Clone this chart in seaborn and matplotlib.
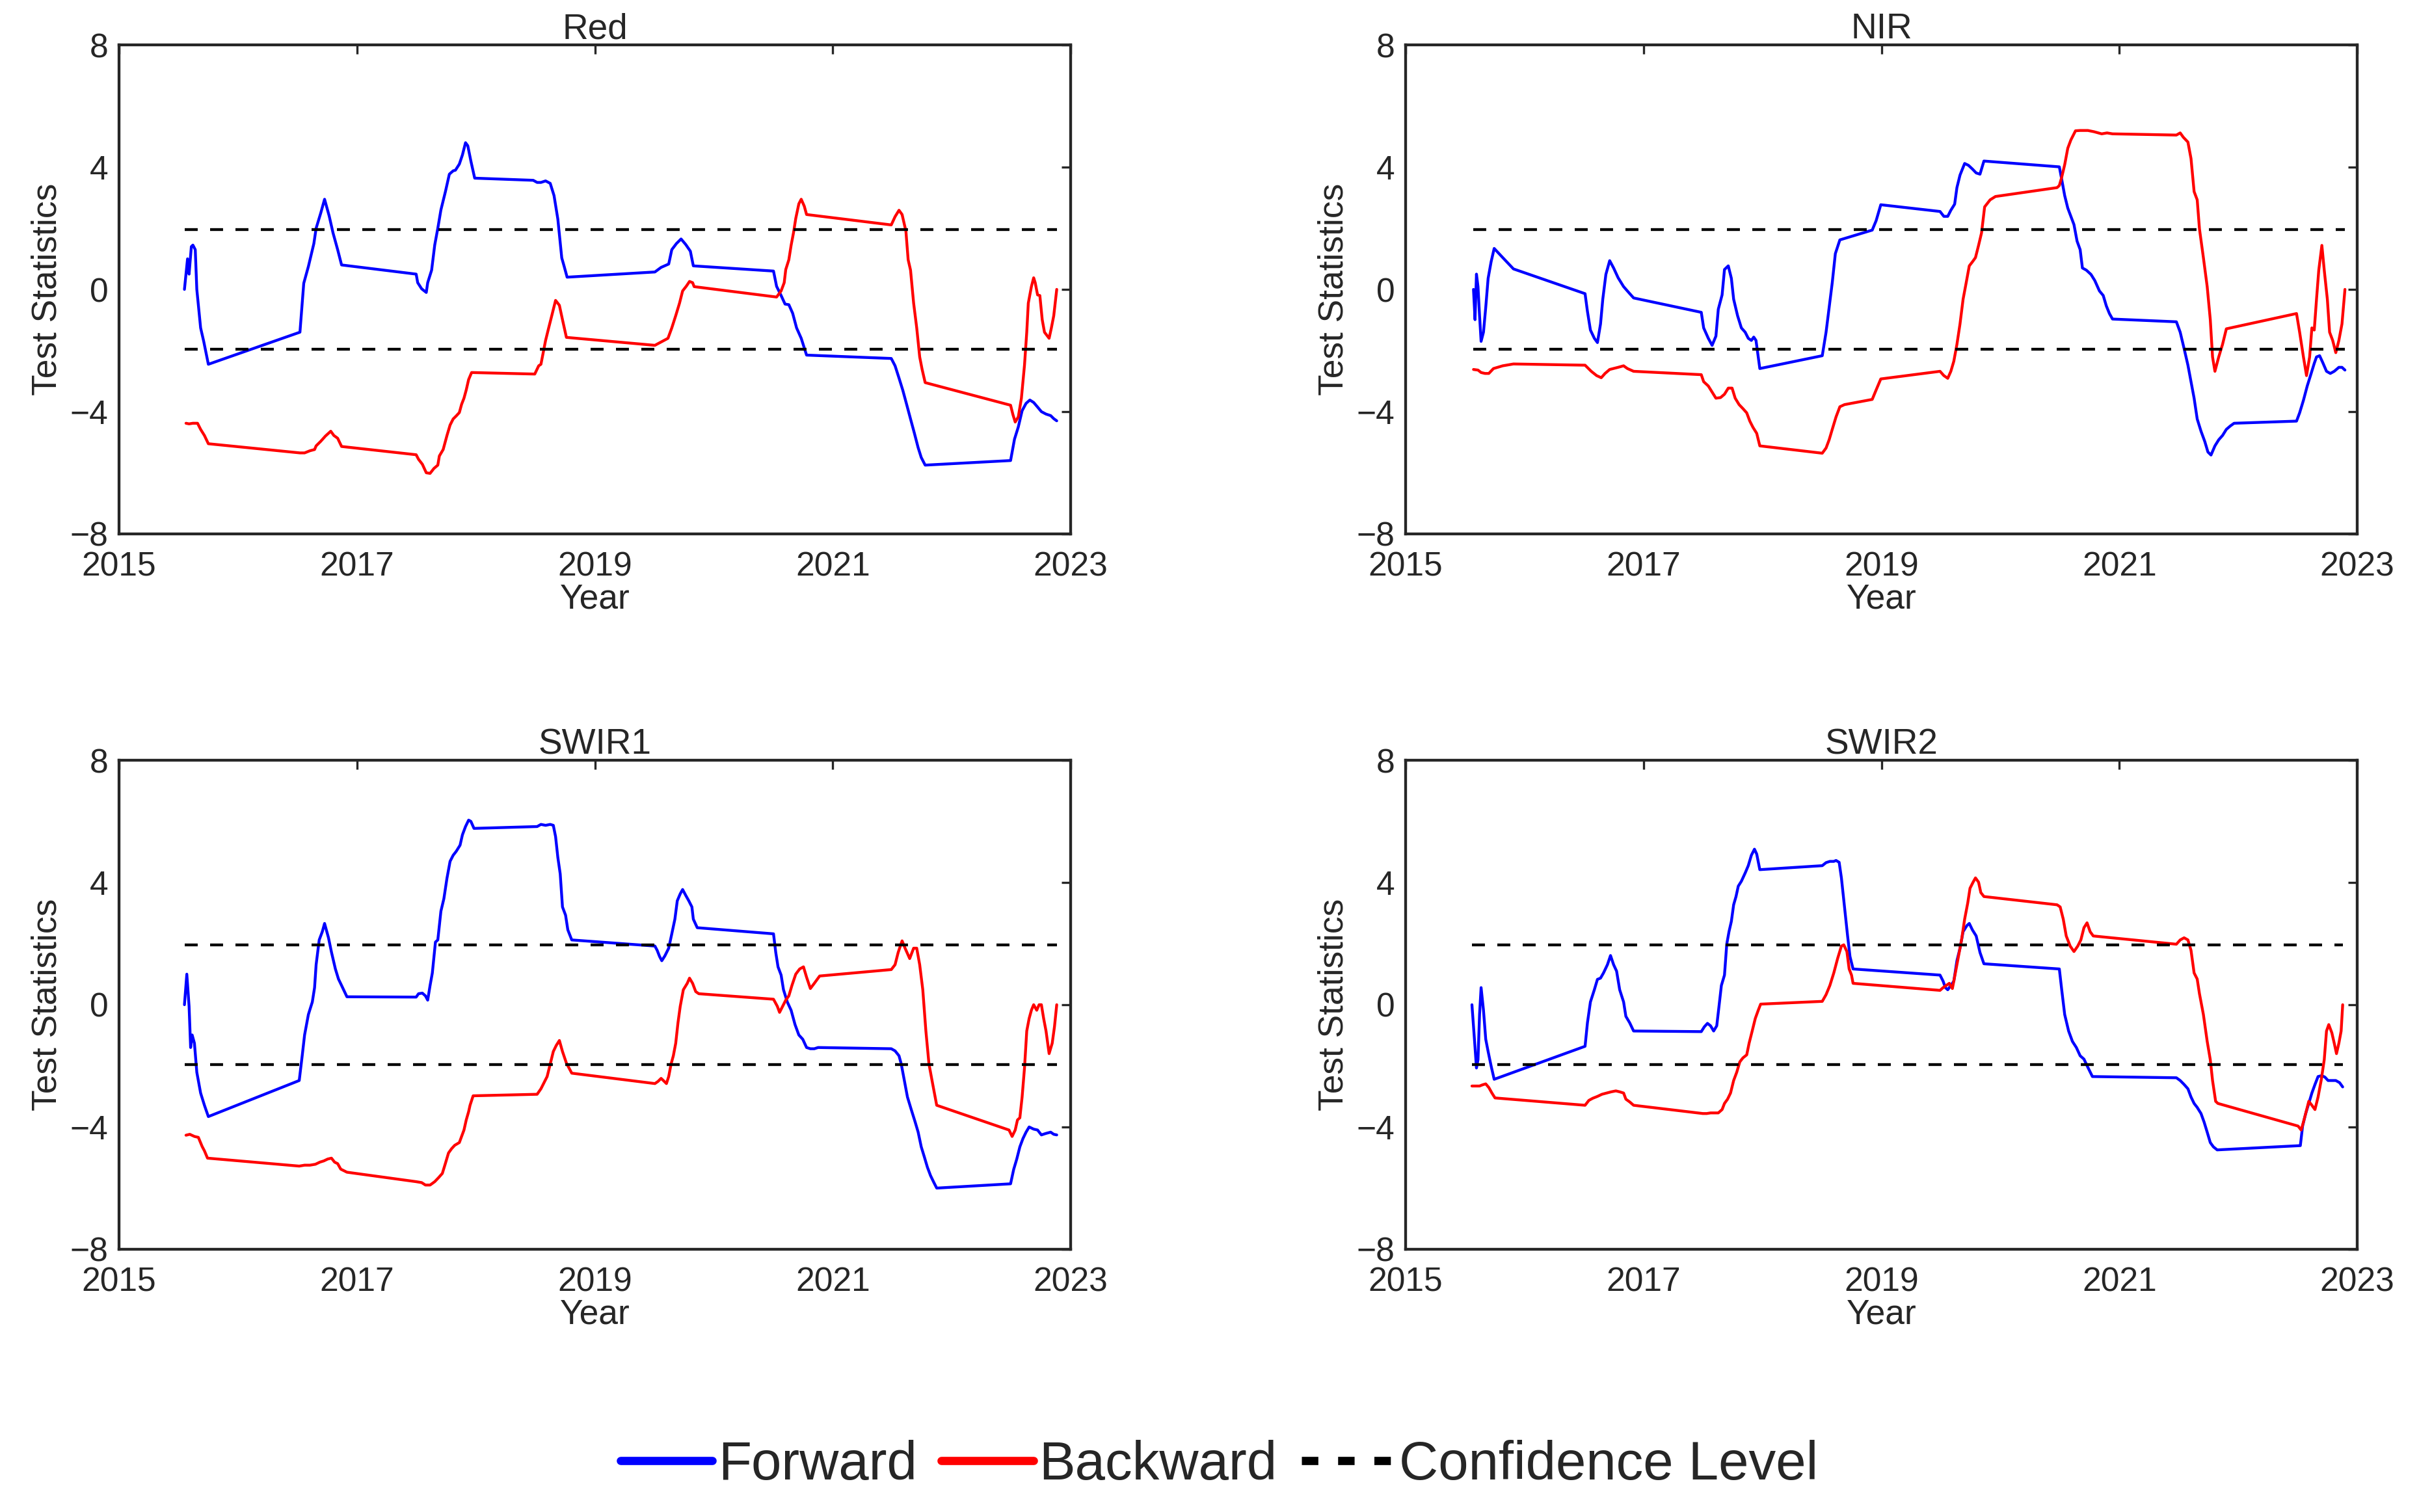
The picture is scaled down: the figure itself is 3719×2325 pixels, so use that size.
import matplotlib
matplotlib.use("Agg")
import matplotlib.pyplot as plt
from matplotlib.lines import Line2D
import seaborn as sns

sns.set_style("white")
plt.rcParams['font.family'] = ['Liberation Sans', 'DejaVu Sans']

# Confidence level (95%)
conf_level = 1.96

# ---- Red band ----
red_fwd_t = [2015.550, 2015.576, 2015.589, 2015.608, 2015.621, 2015.641, 2015.654, 2015.686, 2015.712, 2015.751,
             2016.521, 2016.553, 2016.592, 2016.638, 2016.657, 2016.696, 2016.728, 2016.767, 2016.799, 2016.838, 2016.871,
             2017.498, 2017.511, 2017.544, 2017.583, 2017.595, 2017.628, 2017.654, 2017.680, 2017.706, 2017.744,
             2017.777, 2017.809, 2017.828, 2017.861, 2017.887, 2017.913, 2017.932, 2017.958, 2017.990,
             2018.482, 2018.515, 2018.547, 2018.586, 2018.625, 2018.657, 2018.689, 2018.722, 2018.741, 2018.767,
             2019.505, 2019.557, 2019.621, 2019.647, 2019.686, 2019.725, 2019.764, 2019.803, 2019.828,
             2020.502, 2020.528, 2020.566, 2020.599, 2020.631, 2020.663, 2020.696, 2020.735, 2020.780,
             2021.492, 2021.524, 2021.557, 2021.589, 2021.621, 2021.654, 2021.686, 2021.718, 2021.744, 2021.777,
             2022.495, 2022.528, 2022.560, 2022.592, 2022.625, 2022.657, 2022.689, 2022.722, 2022.754, 2022.793,
             2022.832, 2022.858, 2022.883]
red_fwd_v = [0.0, 1.0, 0.5, 1.4, 1.45, 1.3, 0.0, -1.26, -1.7, -2.45,
             -1.4, 0.2, 0.75, 1.5, 2.0, 2.5, 2.95, 2.4, 1.85, 1.3, 0.8,
             0.5, 0.22, 0.02, -0.1, 0.22, 0.63, 1.45, 2.0, 2.6, 3.2,
             3.77, 3.88, 3.9, 4.1, 4.4, 4.8, 4.7, 4.2, 3.64,
             3.57, 3.5, 3.5, 3.55, 3.47, 3.07, 2.3, 1.03, 0.77, 0.4,
             0.57, 0.72, 0.83, 1.3, 1.5, 1.65, 1.47, 1.25, 0.77,
             0.6, 0.1, -0.2, -0.48, -0.5, -0.78, -1.26, -1.6, -2.15,
             -2.26, -2.5, -2.9, -3.3, -3.76, -4.24, -4.7, -5.18, -5.5, -5.75,
             -5.6, -4.9, -4.5, -3.97, -3.73, -3.62, -3.7, -3.85, -4.0, -4.08,
             -4.13, -4.23, -4.3]
red_bwd_t = [2015.563, 2015.589, 2015.621, 2015.660, 2015.686, 2015.718, 2015.751,
             2016.521, 2016.560, 2016.605, 2016.644, 2016.657, 2016.696, 2016.735, 2016.780, 2016.806, 2016.838, 2016.871,
             2017.498, 2017.518, 2017.550, 2017.583, 2017.615, 2017.647, 2017.680, 2017.693, 2017.725, 2017.757,
             2017.783, 2017.809, 2017.835, 2017.861, 2017.880, 2017.900, 2017.919, 2017.939, 2017.964,
             2018.495, 2018.528, 2018.547, 2018.566, 2018.586, 2018.612, 2018.638, 2018.670, 2018.702, 2018.728, 2018.761,
             2019.505, 2019.615, 2019.647, 2019.680, 2019.712, 2019.738, 2019.770, 2019.796, 2019.822, 2019.835,
             2020.528, 2020.566, 2020.592, 2020.605, 2020.631, 2020.650, 2020.670, 2020.689, 2020.715, 2020.735,
             2020.761, 2020.780,
             2021.492, 2021.524, 2021.557, 2021.583, 2021.615, 2021.634, 2021.654, 2021.680, 2021.706, 2021.731,
             2021.751, 2021.777,
             2022.495, 2022.515, 2022.534, 2022.560, 2022.586, 2022.612, 2022.631, 2022.644, 2022.670, 2022.689,
             2022.702, 2022.722, 2022.741, 2022.761, 2022.780, 2022.819, 2022.838, 2022.858, 2022.883]
red_bwd_v = [-4.38, -4.4, -4.38, -4.38, -4.58, -4.78, -5.05,
             -5.35, -5.35, -5.28, -5.24, -5.12, -4.97, -4.8, -4.64, -4.78, -4.87, -5.14,
             -5.41, -5.56, -5.72, -6.0, -6.02, -5.86, -5.75, -5.45, -5.24, -4.78,
             -4.44, -4.24, -4.14, -4.03, -3.76, -3.56, -3.29, -2.95, -2.72,
             -2.77, -2.5, -2.45, -2.07, -1.67, -1.26, -0.86, -0.36, -0.52, -0.99, -1.57,
             -1.83, -1.6, -1.26, -0.86, -0.45, -0.05, 0.11, 0.26, 0.22, 0.09,
             -0.25, -0.05, 0.22, 0.65, 0.97, 1.44, 1.85, 2.32, 2.8, 2.95,
             2.72, 2.45,
             2.11, 2.38, 2.59, 2.45, 1.91, 0.97, 0.63, -0.45, -1.26, -2.21,
             -2.61, -3.05,
             -3.79, -4.1, -4.34, -4.17, -3.56, -2.48, -1.4, -0.45, 0.09, 0.38,
             0.22, -0.18, -0.2, -0.99, -1.4, -1.6, -1.26, -0.86, 0.0]

# ---- NIR band ----
nir_fwd_t = [2015.570, 2015.583, 2015.595, 2015.608, 2015.621, 2015.634, 2015.654, 2015.673, 2015.693, 2015.718,
             2015.744, 2015.816, 2015.906,
             2016.508, 2016.528, 2016.553, 2016.586, 2016.612, 2016.638, 2016.657, 2016.683, 2016.715, 2016.748,
             2016.786, 2016.832, 2016.877, 2016.916,
             2017.485, 2017.505, 2017.544, 2017.576, 2017.608, 2017.628, 2017.660, 2017.680, 2017.712, 2017.738,
             2017.757, 2017.790, 2017.822, 2017.854, 2017.880, 2017.906, 2017.926, 2017.945, 2017.977,
             2018.502, 2018.534, 2018.560, 2018.586, 2018.612, 2018.650,
             2018.922, 2018.955, 2018.994,
             2019.492, 2019.524, 2019.557, 2019.583, 2019.615, 2019.634, 2019.660, 2019.699, 2019.731, 2019.764,
             2019.796, 2019.828, 2019.861,
             2020.495, 2020.515, 2020.540, 2020.566, 2020.592, 2020.618, 2020.644, 2020.670, 2020.689, 2020.722,
             2020.761, 2020.793, 2020.832, 2020.864, 2020.890, 2020.916, 2020.942,
             2021.479, 2021.511, 2021.544, 2021.576, 2021.602, 2021.628, 2021.654, 2021.686, 2021.718, 2021.744,
             2021.770, 2021.803, 2021.835, 2021.867, 2021.899, 2021.932, 2021.964,
             2022.489, 2022.515, 2022.547, 2022.579, 2022.612, 2022.638, 2022.657, 2022.683, 2022.709, 2022.741,
             2022.773, 2022.806, 2022.845, 2022.871, 2022.896]
nir_fwd_v = [0.0, -0.99, 0.5, 0.09, -0.86, -1.7, -1.4, -0.59, 0.36, 0.9,
             1.34, 1.04, 0.67,
             -0.14, -0.72, -1.33, -1.6, -1.74, -1.13, -0.32, 0.49, 0.94, 0.7,
             0.38, 0.09, -0.11, -0.28,
             -0.75, -1.26, -1.6, -1.83, -1.53, -0.65, -0.18, 0.65, 0.77, 0.36,
             -0.32, -0.86, -1.26, -1.4, -1.6, -1.67, -1.56, -1.67, -2.59,
             -2.17, -1.4, -0.59, 0.22, 1.17, 1.62,
             1.94, 2.25, 2.77,
             2.55, 2.39, 2.39, 2.59, 2.79, 3.33, 3.74, 4.12, 4.06, 3.94,
             3.81, 3.77, 4.2,
             4.01, 3.6, 3.07, 2.66, 2.39, 2.12, 1.58, 1.3, 0.7, 0.63,
             0.49, 0.29, -0.05, -0.2, -0.54, -0.79, -0.97,
             -1.06, -1.4, -1.94, -2.48, -3.02, -3.56, -4.24, -4.64, -4.98, -5.32,
             -5.42, -5.12, -4.92, -4.78, -4.58, -4.47, -4.38,
             -4.31, -4.04, -3.63, -3.16, -2.75, -2.42, -2.21, -2.17, -2.39, -2.68,
             -2.75, -2.68, -2.55, -2.55, -2.64]
nir_bwd_t = [2015.570, 2015.608, 2015.634, 2015.667, 2015.699, 2015.738, 2015.816, 2015.906,
             2016.508, 2016.560, 2016.605, 2016.644, 2016.676, 2016.715, 2016.786, 2016.832, 2016.864, 2016.916,
             2017.485, 2017.505, 2017.544, 2017.576, 2017.608, 2017.647, 2017.680, 2017.712, 2017.744, 2017.770,
             2017.803, 2017.835, 2017.867, 2017.893, 2017.919, 2017.951, 2017.977,
             2018.502, 2018.534, 2018.560, 2018.586, 2018.618, 2018.650, 2018.689,
             2018.922, 2018.955, 2018.994,
             2019.492, 2019.524, 2019.557, 2019.583, 2019.608, 2019.634, 2019.660, 2019.686, 2019.712, 2019.738,
             2019.764, 2019.790, 2019.816, 2019.841, 2019.867, 2019.913, 2019.958,
             2020.476, 2020.495, 2020.515, 2020.540, 2020.566, 2020.592, 2020.631, 2020.670, 2020.735, 2020.786,
             2020.851, 2020.896, 2020.942,
             2021.479, 2021.511, 2021.537, 2021.576, 2021.602, 2021.628, 2021.654, 2021.673, 2021.706, 2021.738,
             2021.764, 2021.783, 2021.803, 2021.835, 2021.867, 2021.899,
             2022.489, 2022.515, 2022.547, 2022.573, 2022.599, 2022.618, 2022.638, 2022.657, 2022.676, 2022.702,
             2022.722, 2022.748, 2022.767, 2022.793, 2022.819, 2022.845, 2022.871, 2022.896]
nir_bwd_v = [-2.62, -2.64, -2.72, -2.75, -2.75, -2.59, -2.5, -2.44,
             -2.48, -2.68, -2.82, -2.89, -2.75, -2.62, -2.55, -2.5, -2.59, -2.68,
             -2.79, -3.02, -3.16, -3.36, -3.56, -3.54, -3.43, -3.23, -3.23, -3.56,
             -3.77, -3.9, -4.04, -4.31, -4.51, -4.71, -5.12,
             -5.36, -5.19, -4.92, -4.58, -4.17, -3.84, -3.77,
             -3.6, -3.29, -2.93,
             -2.68, -2.82, -2.91, -2.68, -2.35, -1.8, -1.13, -0.32, 0.22, 0.77,
             0.9, 1.04, 1.44, 1.85, 2.7, 2.93, 3.04,
             3.33, 3.4, 3.67, 4.08, 4.62, 4.89, 5.19, 5.2, 5.2, 5.16,
             5.09, 5.12, 5.09,
             5.05, 5.12, 4.98, 4.82, 4.28, 3.2, 2.93, 1.98, 1.04, 0.09,
             -0.99, -2.21, -2.68, -2.21, -1.8, -1.29,
             -0.79, -1.4, -2.21, -2.82, -2.21, -1.26, -1.33, -0.32, 0.63, 1.44,
             0.63, -0.32, -1.4, -1.67, -2.07, -1.67, -1.13, 0.0]

# ---- SWIR1 band ----
swir1_fwd_t = [2015.550, 2015.570, 2015.589, 2015.602, 2015.615, 2015.634, 2015.654, 2015.686, 2015.718, 2015.751,
               2016.515, 2016.540, 2016.560, 2016.592, 2016.625, 2016.644, 2016.657, 2016.683, 2016.709, 2016.728,
               2016.761, 2016.786, 2016.819, 2016.845, 2016.871, 2016.916,
               2017.498, 2017.518, 2017.550, 2017.576, 2017.595, 2017.615, 2017.634, 2017.660, 2017.680, 2017.706,
               2017.731, 2017.757, 2017.783, 2017.809, 2017.835, 2017.867, 2017.887, 2017.913, 2017.939, 2017.958,
               2017.984,
               2018.515, 2018.547, 2018.586, 2018.625, 2018.651, 2018.670, 2018.689, 2018.709, 2018.728, 2018.754,
               2018.773, 2018.806,
               2019.505, 2019.524, 2019.544, 2019.563, 2019.589, 2019.621, 2019.647, 2019.673, 2019.693, 2019.718,
               2019.738, 2019.764, 2019.790, 2019.816, 2019.828, 2019.861,
               2020.502, 2020.521, 2020.540, 2020.566, 2020.586, 2020.618, 2020.650, 2020.683, 2020.715, 2020.748,
               2020.780, 2020.812, 2020.845, 2020.877,
               2021.492, 2021.524, 2021.557, 2021.576, 2021.602, 2021.628, 2021.660, 2021.693, 2021.718, 2021.744,
               2021.770, 2021.796, 2021.822, 2021.848, 2021.874,
               2022.495, 2022.521, 2022.547, 2022.573, 2022.599, 2022.625, 2022.651, 2022.689, 2022.722, 2022.754,
               2022.793, 2022.832, 2022.858, 2022.883]
swir1_fwd_v = [0.0, 1.0, -0.05, -1.4, -0.99, -1.26, -2.21, -2.89, -3.29, -3.66,
               -2.48, -1.67, -0.99, -0.32, 0.09, 0.56, 1.31, 2.12, 2.39, 2.66,
               2.19, 1.72, 1.17, 0.84, 0.63, 0.26,
               0.25, 0.36, 0.38, 0.29, 0.15, 0.63, 1.04, 2.05, 2.12, 3.06,
               3.47, 4.14, 4.69, 4.89, 5.02, 5.22, 5.56, 5.83, 6.04, 6.0,
               5.77,
               5.83, 5.9, 5.87, 5.9, 5.87, 5.5, 4.82, 4.28, 3.2, 2.93,
               2.45, 2.12,
               1.92, 1.78, 1.58, 1.44, 1.6, 1.85, 2.32, 2.8, 3.4, 3.63,
               3.77, 3.58, 3.4, 3.2, 2.8, 2.52,
               2.32, 1.71, 1.24, 0.97, 0.49, 0.09, -0.18, -0.65, -0.99, -1.13,
               -1.4, -1.44, -1.44, -1.4,
               -1.44, -1.51, -1.67, -1.94, -2.48, -3.02, -3.43, -3.84, -4.17, -4.65,
               -4.98, -5.32, -5.59, -5.8, -6.0,
               -5.86, -5.39, -5.05, -4.65, -4.38, -4.17, -4.0, -4.07, -4.1, -4.26,
               -4.21, -4.17, -4.24, -4.26]
swir1_bwd_t = [2015.563, 2015.595, 2015.634, 2015.667, 2015.699, 2015.718, 2015.744,
               2016.515, 2016.560, 2016.605, 2016.651, 2016.689, 2016.722, 2016.754, 2016.786, 2016.812, 2016.838,
               2016.864, 2016.916,
               2017.498, 2017.544, 2017.576, 2017.615, 2017.654, 2017.686, 2017.718, 2017.744, 2017.770, 2017.796,
               2017.822, 2017.861, 2017.880, 2017.900, 2017.919, 2017.939, 2017.951, 2017.977,
               2018.515, 2018.547, 2018.573, 2018.599, 2018.625, 2018.651, 2018.676, 2018.702, 2018.728, 2018.761,
               2018.806,
               2019.505, 2019.531, 2019.557, 2019.576, 2019.602, 2019.621, 2019.641, 2019.660, 2019.680, 2019.699,
               2019.718, 2019.744, 2019.777, 2019.796, 2019.822, 2019.848, 2019.874,
               2020.502, 2020.534, 2020.553, 2020.579, 2020.605, 2020.631, 2020.657, 2020.689, 2020.722, 2020.754,
               2020.780, 2020.812, 2020.845, 2020.890,
               2021.492, 2021.524, 2021.550, 2021.583, 2021.608, 2021.647, 2021.680, 2021.706, 2021.731, 2021.757,
               2021.783, 2021.809, 2021.841, 2021.874,
               2022.482, 2022.508, 2022.534, 2022.553, 2022.573, 2022.592, 2022.612, 2022.631, 2022.651, 2022.670,
               2022.689, 2022.715, 2022.735, 2022.754, 2022.773, 2022.793, 2022.819, 2022.845, 2022.864, 2022.883]
swir1_bwd_v = [-4.27, -4.24, -4.31, -4.34, -4.64, -4.78, -5.02,
               -5.28, -5.25, -5.25, -5.22, -5.15, -5.11, -5.05, -5.02, -5.15, -5.2,
               -5.38, -5.48,
               -5.79, -5.82, -5.9, -5.9, -5.79, -5.66, -5.52, -5.19, -4.85, -4.71,
               -4.6, -4.51, -4.31, -4.1, -3.77, -3.5, -3.29, -2.98,
               -2.93, -2.75, -2.55, -2.35, -1.94, -1.53, -1.33, -1.17, -1.53, -1.91,
               -2.24,
               -2.58, -2.51, -2.41, -2.48, -2.58, -2.35, -1.94, -1.67, -1.26, -0.59,
               -0.05, 0.49, 0.7, 0.87, 0.7, 0.43, 0.36,
               0.18, -0.05, -0.25, -0.05, 0.15, 0.29, 0.63, 1.0, 1.17, 1.24,
               0.9, 0.53, 0.7, 0.94,
               1.15, 1.31, 1.71, 2.09, 1.85, 1.51, 1.85, 1.85, 1.31, 0.49,
               -0.86, -1.94, -2.61, -3.29,
               -4.1, -4.31, -4.1, -3.77, -3.7, -3.02, -2.07, -0.86, -0.45, -0.18,
               0.0, -0.18, 0.0, 0.0, -0.45, -0.86, -1.6, -1.26, -0.72, 0.0]

# ---- SWIR2 band ----
swir2_fwd_t = [2015.557, 2015.583, 2015.595, 2015.608, 2015.621, 2015.634, 2015.654, 2015.673, 2015.693, 2015.718,
               2015.744,
               2016.508, 2016.528, 2016.553, 2016.586, 2016.612, 2016.638, 2016.663, 2016.696, 2016.722, 2016.748,
               2016.773, 2016.799, 2016.832, 2016.851, 2016.883, 2016.916,
               2017.485, 2017.511, 2017.537, 2017.563, 2017.589, 2017.615, 2017.634, 2017.654, 2017.680, 2017.699,
               2017.718, 2017.738, 2017.757, 2017.777, 2017.796, 2017.822, 2017.854, 2017.880, 2017.906, 2017.932,
               2017.951, 2017.977,
               2018.502, 2018.534, 2018.566, 2018.599, 2018.618, 2018.644, 2018.663, 2018.689, 2018.715, 2018.735,
               2018.761,
               2019.492, 2019.518, 2019.537, 2019.557, 2019.583, 2019.608, 2019.634, 2019.660, 2019.686, 2019.718,
               2019.738, 2019.764, 2019.796, 2019.828, 2019.861,
               2020.495, 2020.515, 2020.540, 2020.573, 2020.605, 2020.638, 2020.670, 2020.702, 2020.735, 2020.773,
               2021.479, 2021.511, 2021.544, 2021.576, 2021.602, 2021.628, 2021.654, 2021.686, 2021.712, 2021.738,
               2021.764, 2021.790, 2021.822,
               2022.521, 2022.540, 2022.566, 2022.592, 2022.618, 2022.644, 2022.670, 2022.702, 2022.728, 2022.754,
               2022.786, 2022.819, 2022.851, 2022.877]
swir2_fwd_v = [0.0, -1.4, -2.07, -1.8, -0.32, 0.56, -0.18, -1.13, -1.53, -2.0,
               -2.44,
               -1.36, -0.59, 0.09, 0.49, 0.83, 0.87, 1.04, 1.31, 1.61, 1.31,
               1.1, 0.49, 0.09, -0.38, -0.59, -0.86,
               -0.88, -0.72, -0.61, -0.69, -0.86, -0.69, -0.05, 0.63, 0.97, 1.98,
               2.39, 2.73, 3.27, 3.54, 3.88, 4.04, 4.31, 4.55, 4.89, 5.09,
               4.93, 4.42,
               4.55, 4.65, 4.69, 4.69, 4.72, 4.66, 4.15, 3.2, 2.25, 1.58,
               1.17,
               0.97, 0.77, 0.56, 0.49, 0.63, 0.77, 1.44, 1.85, 2.39, 2.59,
               2.66, 2.45, 2.25, 1.71, 1.34,
               1.17, 0.49, -0.32, -0.86, -1.2, -1.4, -1.67, -1.78, -2.05, -2.35,
               -2.39, -2.48, -2.61, -2.75, -3.02, -3.23, -3.36, -3.56, -3.84, -4.17,
               -4.51, -4.65, -4.75,
               -4.61, -3.97, -3.56, -3.23, -2.89, -2.61, -2.35, -2.32, -2.37, -2.48,
               -2.48, -2.48, -2.55, -2.69]
swir2_bwd_t = [2015.557, 2015.589, 2015.621, 2015.647, 2015.673, 2015.699, 2015.725, 2015.751,
               2016.508, 2016.540, 2016.573, 2016.612, 2016.650, 2016.689, 2016.728, 2016.767, 2016.799, 2016.832,
               2016.851, 2016.883, 2016.916,
               2017.498, 2017.531, 2017.563, 2017.596, 2017.628, 2017.660, 2017.680, 2017.706, 2017.731, 2017.757,
               2017.783, 2017.809, 2017.835, 2017.867, 2017.887, 2017.913, 2017.939, 2017.964, 2017.984,
               2018.502, 2018.534, 2018.566, 2018.599, 2018.631, 2018.663, 2018.683, 2018.709, 2018.728, 2018.748,
               2018.761,
               2019.492, 2019.518, 2019.544, 2019.570, 2019.596, 2019.621, 2019.647, 2019.673, 2019.699, 2019.725,
               2019.744, 2019.770, 2019.790, 2019.816, 2019.835, 2019.861,
               2020.476, 2020.502, 2020.528, 2020.553, 2020.586, 2020.618, 2020.650, 2020.676, 2020.702, 2020.728,
               2020.754, 2020.780,
               2021.479, 2021.511, 2021.544, 2021.576, 2021.602, 2021.628, 2021.654, 2021.673, 2021.706, 2021.738,
               2021.764, 2021.783, 2021.809, 2021.828,
               2022.502, 2022.528, 2022.547, 2022.566, 2022.592, 2022.618, 2022.644, 2022.670, 2022.696, 2022.722,
               2022.741, 2022.760, 2022.786, 2022.806, 2022.825, 2022.845, 2022.864, 2022.877]
swir2_bwd_v = [-2.66, -2.66, -2.66, -2.62, -2.59, -2.71, -2.89, -3.05,
               -3.29, -3.13, -3.06, -3.0, -2.93, -2.89, -2.85, -2.82, -2.85, -2.89,
               -3.09, -3.18, -3.29,
               -3.56, -3.56, -3.54, -3.54, -3.54, -3.43, -3.23, -3.09, -2.89, -2.48,
               -2.21, -1.87, -1.74, -1.64, -1.26, -0.86, -0.45, -0.18, 0.02,
               0.11, 0.33, 0.63, 1.04, 1.51, 1.92, 1.96, 1.74, 1.17, 0.97,
               0.7,
               0.47, 0.56, 0.63, 0.7, 0.53, 1.04, 1.58, 2.12, 2.8, 3.33,
               3.81, 4.01, 4.15, 4.01, 3.67, 3.54,
               3.27, 3.2, 2.8, 2.25, 1.92, 1.74, 1.92, 2.12, 2.52, 2.68,
               2.39, 2.25,
               1.98, 2.12, 2.19, 2.12, 1.78, 1.04, 0.84, 0.36, -0.32, -1.2,
               -1.8, -2.48, -3.16, -3.23,
               -3.97, -4.1, -3.84, -3.56, -3.16, -3.29, -3.43, -3.02, -2.48, -1.8,
               -0.86, -0.65, -0.92, -1.26, -1.6, -1.26, -0.86, 0.0]

panels = [
    ("Red", red_fwd_t, red_fwd_v, red_bwd_t, red_bwd_v),
    ("NIR", nir_fwd_t, nir_fwd_v, nir_bwd_t, nir_bwd_v),
    ("SWIR1", swir1_fwd_t, swir1_fwd_v, swir1_bwd_t, swir1_bwd_v),
    ("SWIR2", swir2_fwd_t, swir2_fwd_v, swir2_bwd_t, swir2_bwd_v),
]

year_ticks = [2015, 2017, 2019, 2021, 2023]
stat_ticks = [-8, -4, 0, 4, 8]

fig = plt.figure(figsize=(3719 / 240, 2325 / 240), dpi=240)
positions = [
    [0.0492, 0.6469, 0.3934, 0.3234],
    [0.5811, 0.6469, 0.3934, 0.3234],
    [0.0492, 0.1738, 0.3934, 0.3234],
    [0.5811, 0.1738, 0.3934, 0.3234],
]

ink = '#262626'
for pos, (name, ft, fv, bt, bv) in zip(positions, panels):
    ax = fig.add_axes(pos)
    sns.lineplot(x=ft, y=fv, ax=ax, color='blue', lw=1.3, sort=False, estimator=None)
    sns.lineplot(x=bt, y=bv, ax=ax, color='red', lw=1.3, sort=False, estimator=None)
    t0, t1 = ft[0], ft[-1]
    for c in (conf_level, -conf_level):
        ax.plot([t0, t1], [c, c], color='black', lw=1.3, dashes=(4.6, 4.4))
    ax.set_xlim(2015, 2023)
    ax.set_ylim(-8, 8)
    ax.set_xticks(year_ticks)
    ax.set_yticks(stat_ticks)
    ax.set_yticklabels(['\u22128', '\u22124', '0', '4', '8'])
    ax.tick_params(direction='in', top=True, right=True, length=4.3, width=1.0,
                   color=ink, labelcolor=ink, labelsize=15.5)
    ax.tick_params(axis='x', pad=8)
    ax.tick_params(axis='y', pad=5)
    for sp in ax.spines.values():
        sp.set_color(ink)
        sp.set_linewidth(1.3)
    ax.set_title(name, fontsize=16.5, pad=3)
    ax.set_xlabel('Year', fontsize=16, labelpad=0, color=ink)
    ax.set_ylabel('Test Statistics', fontsize=16, labelpad=3, color=ink)

handles = [
    Line2D([], [], color='blue', lw=3.8),
    Line2D([], [], color='red', lw=3.8),
    Line2D([], [], color='black', lw=3.8, dashes=(2.0, 2.4)),
]
fig.legend(handles, ['Forward', 'Backward', 'Confidence Level'], loc='center',
           bbox_to_anchor=(0.504, 0.031), ncol=3, frameon=False, fontsize=25,
           handlelength=1.7, handletextpad=0.1, columnspacing=0.45)

fig.savefig('out.png', dpi=240)
